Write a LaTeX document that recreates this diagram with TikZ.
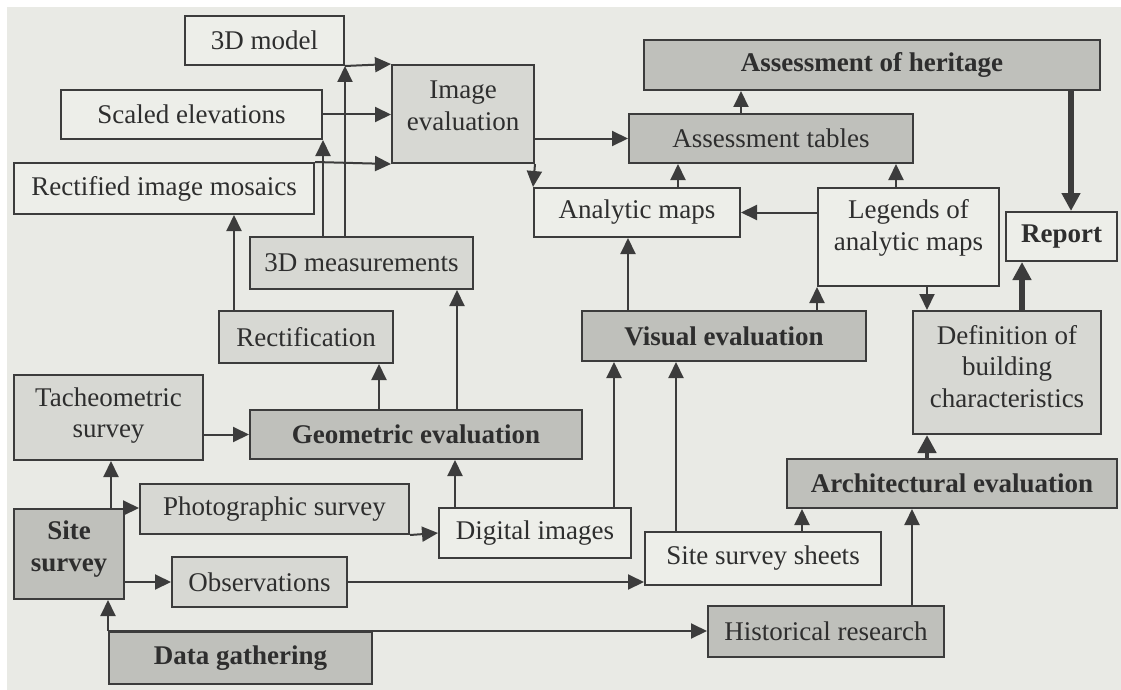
\documentclass[tikz,border=0pt]{standalone}
\usepackage{fontspec}
\setmainfont{Liberation Serif}
\usetikzlibrary{arrows.meta,calc}

\definecolor{paper}{HTML}{E9EAE5}
\definecolor{boxwhite}{HTML}{EDEEE9}
\definecolor{boxlight}{HTML}{D7D8D3}
\definecolor{boxdark}{HTML}{BFC0BB}
\definecolor{ink}{HTML}{3C3C3C}
\definecolor{txt}{HTML}{2E2E2E}

\tikzset{
  boxbase/.style={draw=ink, line width=2pt, inner sep=0pt},
  whitebox/.style={boxbase, fill=boxwhite},
  lightbox/.style={boxbase, fill=boxlight},
  darkbox/.style={boxbase, fill=boxdark},
  plaintext/.style={text=txt, align=center, font=\fontsize{27}{31.5}\selectfont},
  boldtext/.style={text=txt, align=center, font=\fontsize{27}{31.5}\selectfont\bfseries},
  link/.style={draw=ink, line width=2pt, -{Triangle[length=16pt,width=15pt]}},
  thicklink/.style={draw=ink, line width=6pt, -{Triangle[length=18pt,width=18pt]}},
}

% box: name, box style, text style, x1, y1, x2, y2, text shift, text
\newcommand\flowbox[9]{%
  \node[#2, minimum width={#6-#4}, minimum height={#7-#5}] (#1) at ({(#4+#6)/2},{(#5+#7)/2}) {};
  \node[#3] (#1-t) at ([yshift=#8]#1.center) {#9};
}

\begin{document}
\begin{tikzpicture}[x=1pt,y=-1pt]
  % page and paper
  \useasboundingbox (0,0) rectangle (1121,690);
  \fill[white] (0,0) rectangle (1121,690);
  \fill[paper] (7,7) rectangle (1121,690);

  % upper left: photogrammetric products
  \flowbox{model3d}{whitebox}{plaintext}{185}{16}{344}{65}{0}{3D model}
  \flowbox{scaled}{whitebox}{plaintext}{61}{90}{322}{139}{0}{Scaled elevations}
  \flowbox{mosaics}{whitebox}{plaintext}{14}{163}{314}{214}{0}{Rectified image mosaics}
  \flowbox{imgeval}{lightbox}{plaintext}{392}{65}{534}{163}{8}{Image\\evaluation}
  \flowbox{meas3d}{lightbox}{plaintext}{250}{237}{473}{289}{0}{3D measurements}
  \flowbox{rectif}{lightbox}{plaintext}{219}{311}{393}{363}{0}{Rectification}

  % upper right: assessment
  \flowbox{heritage}{darkbox}{boldtext}{644}{40}{1100}{90}{0}{Assessment of heritage}
  \flowbox{tables}{darkbox}{plaintext}{629}{114}{913}{163}{0}{Assessment tables}
  \flowbox{amaps}{whitebox}{plaintext}{534}{188}{740}{237}{0}{Analytic maps}
  \flowbox{legends}{whitebox}{plaintext}{818}{188}{999}{286}{9}{Legends of\\analytic maps}
  \flowbox{report}{whitebox}{boldtext}{1006}{212}{1117}{261}{0}{Report}
  \flowbox{defn}{lightbox}{plaintext}{913}{311}{1101}{434}{6}{Definition of\\building\\characteristics}

  % evaluations
  \flowbox{visual}{darkbox}{boldtext}{582}{311}{866}{361}{0}{Visual evaluation}
  \flowbox{geom}{darkbox}{boldtext}{250}{410}{582}{459}{0}{Geometric evaluation}
  \flowbox{arch}{darkbox}{boldtext}{787}{459}{1117}{508}{0}{Architectural evaluation}

  % survey and data
  \flowbox{tach}{lightbox}{plaintext}{14}{375}{203}{460}{2}{Tacheometric\\survey}
  \flowbox{site}{darkbox}{boldtext}{14}{509}{124}{599}{5}{Site\\survey}
  \flowbox{photo}{lightbox}{plaintext}{140}{484}{409}{534}{0}{Photographic survey}
  \flowbox{digital}{whitebox}{plaintext}{439}{508}{631}{558}{0}{Digital images}
  \flowbox{sheets}{whitebox}{plaintext}{645}{532}{881}{585}{0}{Site survey sheets}
  \flowbox{obs}{lightbox}{plaintext}{172}{557}{347}{607}{0}{Observations}
  \flowbox{hist}{darkbox}{plaintext}{708}{606}{944}{657}{0}{Historical research}
  \flowbox{data}{darkbox}{boldtext}{109}{632}{372}{684}{0}{Data gathering}

  % photogrammetric chain
  \draw[link] (model3d.south east |- meas3d.north) -- (model3d.south east);
  \draw[link] (scaled.south east |- meas3d.north) -- (scaled.south east);
  \draw[link] (model3d.south east) -- (imgeval.north west);
  \draw[link] (scaled.east) -- (imgeval.west |- scaled.east);
  \draw[link] (mosaics.north east) -- (imgeval.south west);
  \draw[link] ([xshift=16pt]rectif.north west) -- ([xshift=16pt]rectif.north west |- mosaics.south);
  \draw[link] ([xshift=-15pt]rectif.south east |- geom.north) -- ([xshift=-15pt]rectif.south east);
  \draw[link] ([xshift=-17pt]meas3d.south east |- geom.north) -- ([xshift=-17pt]meas3d.south east);
  \draw[link] ([xshift=17pt]digital.north west) -- ([xshift=17pt]digital.north west |- geom.south);

  % image evaluation outputs
  \draw[link] (imgeval.east |- tables.west) -- (tables.west);
  \draw[link] (imgeval.south east) -- (amaps.north west);

  % visual evaluation
  \draw[link] ([xshift=-18pt]digital.north east) -- ([xshift=-18pt]digital.north east |- visual.south);
  \draw[link] ([xshift=32pt]sheets.north west) -- ([xshift=32pt]sheets.north west |- visual.south);
  \draw[link] ([xshift=47pt]visual.north west) -- ([xshift=47pt]visual.north west |- amaps.south);
  \draw[link] (legends.south west |- visual.north) -- (legends.south west);

  % assessment
  \draw[link] (legends.west |- amaps.east) -- (amaps.east);
  \draw[link] ([xshift=-63pt]amaps.north east) -- ([xshift=-63pt]amaps.north east |- tables.south);
  \draw[link] ([xshift=79pt]legends.north west) -- ([xshift=79pt]legends.north west |- tables.south);
  \draw[link] (amaps.north east |- tables.north) -- (amaps.north east |- heritage.south);
  \draw[link] ([xshift=15pt]defn.north west |- legends.south) -- ([xshift=15pt]defn.north west);

  % architectural evaluation and report
  \draw[link] ([xshift=16pt]arch.south west |- sheets.north) -- ([xshift=16pt]arch.south west);
  \draw[link] (defn.south west |- hist.north) -- (defn.south west |- arch.south);
  \draw[thicklink, line width=4.5pt] ([xshift=15pt]defn.south west |- arch.north) -- ([xshift=15pt]defn.south west);
  \draw[thicklink] ([xshift=-30pt]heritage.south east) -- ([xshift=-30pt]heritage.south east |- report.north);
  \draw[thicklink] ([xshift=17pt]report.south west |- defn.north) -- ([xshift=17pt]report.south west);

  % survey inputs
  \draw[link] ([xshift=-14pt]site.north east) -- ([xshift=-14pt]site.north east |- tach.south);
  \draw[link] (tach.east |- geom.west) -- (geom.west);
  \draw[link] (site.north east) -- (photo.west |- site.north east);
  \draw[link] (photo.south east) -- (digital.west);
  \draw[link] (site.east |- obs.west) -- (obs.west);
  \draw[link] (obs.east) -- (sheets.west |- obs.east);
  \draw[link] (data.north west) -- (data.north west |- site.south);
  \draw[link] (data.north west) -- (hist.west |- data.north west);
\end{tikzpicture}
\end{document}
